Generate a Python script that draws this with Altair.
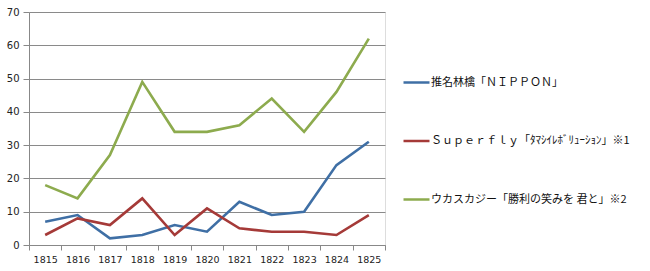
import altair as alt
import pandas as pd

years = ["1815", "1816", "1817", "1818", "1819", "1820", "1821", "1822", "1823", "1824", "1825"]
series_names = [
    "推名林檎「ＮＩＰＰＯＮ」",
    "Ｓｕｐｅｒｆｌｙ「ﾀﾏｼｲﾚﾎﾞﾘｭｰｼｮﾝ」※1",
    "ウカスカジー「勝利の笑みを 君と」※2",
]
nippon = [7, 9, 2, 3, 6, 4, 13, 9, 10, 24, 31]
superfly = [3, 8, 6, 14, 3, 11, 5, 4, 4, 3, 9]
ukasuka = [18, 14, 27, 49, 34, 34, 36, 44, 34, 46, 62]
colors = ["#3F6FA5", "#A53A38", "#8DAB4E"]

rows = []
for name, vals in zip(series_names, [nippon, superfly, ukasuka]):
    for y, v in zip(years, vals):
        rows.append({"year": y, "value": v, "series": name})
df = pd.DataFrame(rows)

font = "DejaVu Sans"

chart = alt.Chart(df).mark_line(strokeWidth=2.6).encode(
    x=alt.X(
        "year:O",
        bandPosition=0.5,
        scale=alt.Scale(type="band", paddingInner=0, paddingOuter=0),
        axis=alt.Axis(
            title=None, labelAngle=0, tickBand="extent", tickSize=5,
            labelPadding=4, labelFont=font, labelFontSize=9.5, labelColor="#222",
            domainColor="#888", tickColor="#888", grid=False,
        ),
    ),
    y=alt.Y(
        "value:Q",
        scale=alt.Scale(domain=[0, 70], nice=False),
        axis=alt.Axis(
            title=None, values=[0, 10, 20, 30, 40, 50, 60, 70], tickSize=6,
            labelPadding=4, labelFont=font, labelFontSize=10, labelColor="#222",
            domainColor="#888", tickColor="#888", gridColor="#8a8a8a",
            gridWidth=1,
        ),
    ),
    color=alt.Color(
        "series:N",
        sort=series_names,
        scale=alt.Scale(domain=series_names, range=colors),
        legend=alt.Legend(
            title=None, orient="none", legendX=373, legendY=56,
            symbolType="stroke", symbolSize=676, symbolStrokeWidth=2.5,
            rowPadding=38.5, labelFont="Noto Sans CJK JP", labelFontSize=11,
            labelColor="#111", labelLimit=300, labelOffset=0,
        ),
    ),
).properties(
    width=356, height=233,
    autosize=alt.AutoSizeParams(type="none"),
    padding={"left": 29, "top": 12, "right": 265, "bottom": 26},
).configure_view(stroke=None).configure(background="white")

chart.save("out.html", embed_options={"renderer": "svg", "actions": False})
